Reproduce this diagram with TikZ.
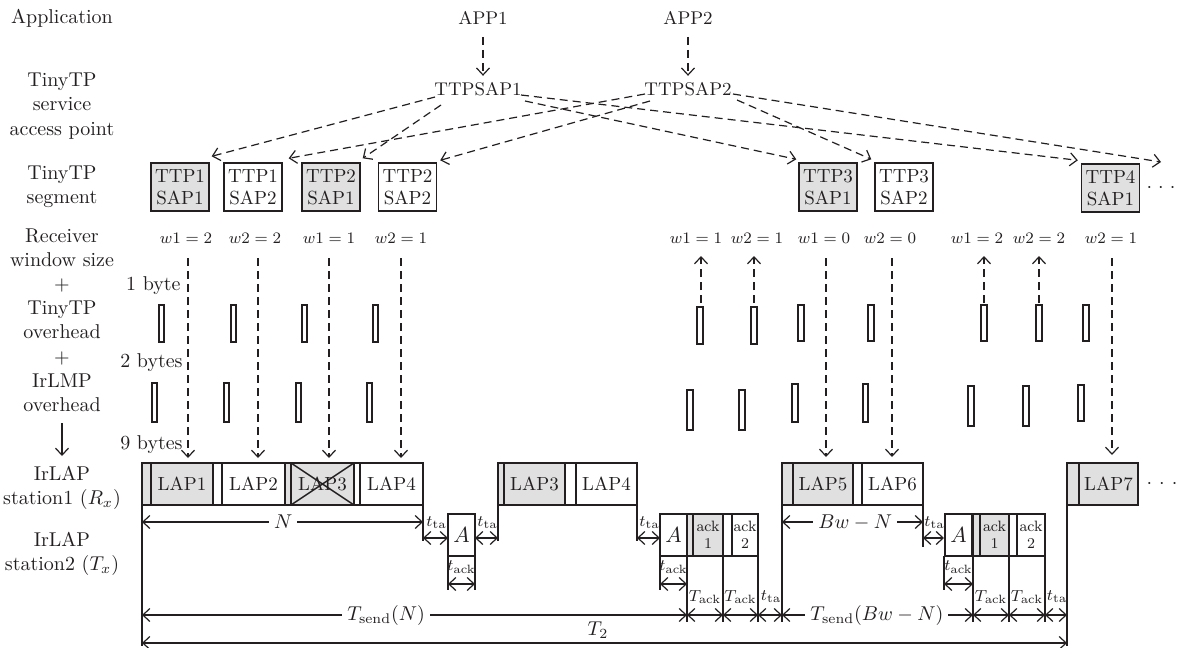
\documentclass[tikz,border=0pt]{standalone}
\usetikzlibrary{arrows.meta}
\definecolor{ink}{HTML}{231F20}
\definecolor{boxgray}{HTML}{E0E0E0}
\newcommand{\lapfr}[6]{%
  \fill[#4] (#1,463) rectangle (#3,505);
  \draw[boxline] (#1,463) rectangle (#3,505);
  \draw[boxline] (#2,463) -- (#2,505);
  \node[laptext] (#6) at ({(#2+#3)/2},484) {#5};
}
\newcommand{\ackfr}[6]{%
  \fill[#4] (#1,514) rectangle (#3,556);
  \draw[boxline] (#1,514) rectangle (#3,556);
  \draw[boxline] (#2,514) -- (#2,556);
  \node[acktext] (#6) at ({(#2+#3)/2},535) {#5};
}
\begin{document}
\begin{tikzpicture}[x=0.5pt,y=-0.5pt,
  >={Straight Barb[length=3.5pt,width=6.5pt]},
  every node/.style={text=ink, inner sep=0pt},
  lbl/.style={align=center, font=\fontsize{10}{12.1}\selectfont},
  toplbl/.style={font=\fontsize{9.2}{11}\selectfont},
  dasharrow/.style={draw=ink, line width=0.6pt, dash pattern=on 4pt off 2.5pt, ->},
  solidarrow/.style={draw=ink, line width=0.6pt, ->},
  dim/.style={draw=ink, line width=0.6pt, <->},
  guide/.style={draw=ink, line width=0.6pt},
  boxline/.style={draw=ink, line width=0.7pt},
  ttpbox/.style={draw=ink, line width=0.7pt, minimum width=29pt, minimum height=24pt, align=center, font=\fontsize{9.5}{11}\selectfont},
  abox/.style={draw=ink, line width=0.7pt, fill=white, minimum width=13.5pt, minimum height=21pt, font=\fontsize{11}{12}\selectfont},
  ohbox/.style={draw=ink, line width=0.6pt},
  wlbl/.style={font=\fontsize{8}{9}\selectfont},
  laptext/.style={font=\fontsize{9.5}{11}\selectfont},
  acktext/.style={align=center, font=\fontsize{7.5}{8.5}\selectfont},
  smalllbl/.style={font=\fontsize{8}{9}\selectfont},
  onlinelbl/.style={fill=white, inner xsep=2.5pt, inner ysep=1pt, font=\fontsize{10}{12}\selectfont},
]
\useasboundingbox (0,0) rectangle (1179,648);

% ---------- left column labels ----------
\node[lbl] (lApp) at (62,18) {Application};
\node[lbl] (lSap) at (62,106) {TinyTP\\service\\access point};
\node[lbl] (lSeg) at (62,187) {TinyTP\\segment};
\node[lbl] (lOvh) at (62,320) {Receiver\\window size\\+\\TinyTP\\overhead\\+\\IrLMP\\overhead};
\coordinate (lArrS) at (62,423);
\coordinate (lArrE) at (62,456);
\draw[solidarrow] (lArrS) -- (lArrE);
\node[lbl] (lSt1) at (62,488) {IrLAP\\station1 $(R_x)$};
\node[lbl] (lSt2) at (62,554) {IrLAP\\station2 $(T_x)$};

% ---------- applications and SAPs ----------
\node[toplbl] (app1) at (483,18) {APP1};
\node[toplbl] (app2) at (688,18) {APP2};
\node[toplbl] (sap1) at (478,89) {TTPSAP1};
\node[toplbl] (sap2) at (688,89) {TTPSAP2};
\draw[dasharrow, shorten <=6pt, shorten >=3pt] (app1.south) -- (app1.south |- sap1.north);
\draw[dasharrow, shorten <=6pt, shorten >=3pt] (app2.south) -- (app2.south |- sap2.north);

% ---------- TinyTP segments ----------
\node[ttpbox, fill=boxgray] (t11) at (180,187) {TTP1\\SAP1};
\node[ttpbox] (t12) at (253,187) {TTP1\\SAP2};
\node[ttpbox, fill=boxgray] (t21) at (331,187) {TTP2\\SAP1};
\node[ttpbox] (t22) at (407.5,187) {TTP2\\SAP2};
\node[ttpbox, fill=boxgray] (t31) at (828,187) {TTP3\\SAP1};
\node[ttpbox] (t32) at (904,187) {TTP3\\SAP2};
\node[ttpbox, fill=boxgray] (t41) at (1110.5,188) {TTP4\\SAP1};
\node[lbl] (dots1) at (1161,188) {$\cdot$\hspace{3pt}$\cdot$\hspace{3pt}$\cdot$};

\coordinate (s1l1) at (435,97);
\coordinate (s1l2) at (441,105);
\coordinate (s1r1) at (521,95);
\coordinate (s1r2) at (525,101);
\coordinate (s2l1) at (645,94);
\coordinate (s2l2) at (650,101);
\coordinate (s2r1) at (733,94);
\coordinate (s2r2) at (737,100);
\coordinate (t42tip) at (1161,162);

\draw[dasharrow] (s1l1) -- ([shift={(2,-6)}]t11.north east);
\draw[dasharrow] (s1l2) -- ([shift={(2,-4)}]t21.north east);
\draw[dasharrow] (s1r2) -- ([shift={(-2,-3)}]t31.north west);
\draw[dasharrow] (s1r1) -- ([shift={(-3,-3)}]t41.north west);
\draw[dasharrow] (s2l1) -- ([shift={(6,-4)}]t12.north east);
\draw[dasharrow] (s2l2) -- ([shift={(3,-2)}]t22.north east);
\draw[dasharrow] (s2r2) -- ([shift={(-3,-3)}]t32.north west);
\draw[dasharrow] (s2r1) -- (t42tip);

% ---------- receiver window labels ----------
\node[wlbl] (w1) at (186,238) {$w1 = 2$};
\node[wlbl] (w2) at (255,238) {$w2 = 2$};
\node[wlbl] (w3) at (329,238) {$w1 = 1$};
\node[wlbl] (w4) at (401,238) {$w2 = 1$};
\node[wlbl] (w5) at (696,238) {$w1 = 1$};
\node[wlbl] (w6) at (757,238) {$w2 = 1$};
\node[wlbl] (w7) at (824,238) {$w1 = 0$};
\node[wlbl] (w8) at (890,238) {$w2 = 0$};
\node[wlbl] (w9) at (977,238) {$w1 = 2$};
\node[wlbl] (w10) at (1039,238) {$w2 = 2$};
\node[wlbl] (w11) at (1111,238) {$w2 = 1$};

\foreach \i/\x/\e in {1/188/458,2/258/458,3/329/458,4/401/458,5/826/457,6/892/457,7/1112/455} {
  \coordinate (d\i s) at (\x,258);
  \coordinate (d\i e) at (\x,\e);
  \draw[dasharrow] (d\i s) -- (d\i e);
}
\foreach \i/\x in {1/701,2/754,3/984,4/1039} {
  \coordinate (u\i s) at (\x,303);
  \coordinate (u\i e) at (\x,256);
  \draw[dasharrow] (u\i s) -- (u\i e);
}

% ---------- byte labels ----------
\node[lbl, anchor=base east] (b1) at (181,290) {1 byte};
\node[lbl, anchor=base east] (b2) at (183,367) {2 bytes};
\node[lbl, anchor=base east] (b9) at (183,449) {9 bytes};

% ---------- overhead boxes ----------
\foreach \x/\y/\w/\h in {159/305/5/37, 231/305/5/37, 302/305/5/37, 373/305/5/37,
  697/307/6/37, 751/307/6/37, 798/305/6/36, 868/305/6/36, 981/305/6/36, 1036/305/6/36, 1083/305/6/36,
  152/383/5/39, 224/383/5/39, 296/383/5/39, 367/383/5/39,
  687/390/6/40, 739/390/6/40, 792/384/6/38, 863/384/5/38, 968/386/6/40, 1023/386/6/40, 1078/385/6/36}
  \draw[ohbox] (\x,\y) rectangle ++(\w,\h);

% ---------- IrLAP station 1 frames ----------
\lapfr{142}{151}{213}{boxgray}{LAP1}{lap1}
\lapfr{213}{222}{285}{white}{LAP2}{lap2}
\lapfr{285}{291}{354}{boxgray}{LAP3}{lap3}
\lapfr{354}{360}{423}{white}{LAP4}{lap4}
\draw[boxline] (291,463) -- (354,505) (291,505) -- (354,463);
\lapfr{498}{504}{565}{boxgray}{LAP3}{lap3b}
\lapfr{565}{576}{637}{white}{LAP4}{lap4b}
\lapfr{782}{793}{853}{boxgray}{LAP5}{lap5}
\lapfr{853}{862}{923}{white}{LAP6}{lap6}
\lapfr{1067}{1079}{1138}{boxgray}{LAP7}{lap7}
\node[lbl] (dots2) at (1162,484) {$\cdot$\hspace{3.5pt}$\cdot$\hspace{3.5pt}$\cdot$};

% ---------- IrLAP station 2 frames ----------
\node[abox] (A1) at (461.5,535) {$A$};
\node[abox] (A2) at (673.5,535) {$A$};
\node[abox] (A3) at (958.5,535) {$A$};
\ackfr{687}{693}{723}{boxgray}{ack\\1}{k11}
\ackfr{723}{732}{758}{white}{ack\\2}{k12}
\ackfr{973}{980}{1009}{boxgray}{ack\\1}{k21}
\ackfr{1009}{1017}{1045}{white}{ack\\2}{k22}

% ---------- guide lines ----------
\foreach \x/\a/\b in {142/505/646, 423/505/541, 448/556/590, 475/556/590, 498/505/541, 637/505/541,
  660/556/590, 687/556/622, 723/556/622, 758/556/622, 782/505/622, 923/505/547,
  944/556/590, 973/556/622, 1009/556/622, 1045/556/622, 1067/505/646}
  \draw[guide] (\x,\a) -- (\x,\b);

% ---------- dimensions ----------
\coordinate (nL) at (142,522);  \coordinate (nR) at (423,522);
\draw[dim] (nL) -- node[onlinelbl, pos=0.503] (lblN) {$N$} (nR);
\coordinate (bwL) at (782,522); \coordinate (bwR) at (923,522);
\draw[dim] (bwL) -- node[onlinelbl, pos=0.52] (lblBw) {$Bw - N$} (bwR);

\foreach \n/\a/\b/\y/\ly in {ta1/423/448/538/523, ta2/475/498/538/523, ta3/637/660/538/523, ta4/923/944/538/523,
  ta5/758/782/615/597, ta6/1045/1067/615/597} {
  \coordinate (\n L) at (\a,\y); \coordinate (\n R) at (\b,\y);
  \draw[dim] (\n L) -- (\n R);
  \node[smalllbl] (\n lbl) at ({(\a+\b)/2+1},\ly) {$t_{\mathrm{ta}}$};
}
\foreach \n/\a/\b in {ak1/448/475, ak2/660/687, ak3/944/973} {
  \coordinate (\n L) at (\a,584); \coordinate (\n R) at (\b,584);
  \draw[dim] (\n L) -- (\n R);
  \node[smalllbl] (\n lbl) at ({(\a+\b)/2},567) {$t_{\mathrm{ack}}$};
}
\foreach \n/\a/\b in {Ak1/687/723, Ak2/723/758, Ak3/973/1009, Ak4/1009/1045} {
  \coordinate (\n L) at (\a,615); \coordinate (\n R) at (\b,615);
  \draw[dim] (\n L) -- (\n R);
  \node[smalllbl, font=\fontsize{8.5}{9}\selectfont] (\n lbl) at ({(\a+\b)/2},597) {$T_{\mathrm{ack}}$};
}
\coordinate (tsL) at (142,615); \coordinate (tsR) at (687,615);
\draw[dim] (tsL) -- node[onlinelbl, pos=0.448] (lblTs) {$T_{\mathrm{send}}(N)$} (tsR);
\coordinate (tbL) at (782,615); \coordinate (tbR) at (973,615);
\draw[dim] (tbL) -- node[onlinelbl, pos=0.497] (lblTb) {$T_{\mathrm{send}}(Bw - N)$} (tbR);
\coordinate (t2L) at (142,643); \coordinate (t2R) at (1067,643);
\draw[dim] (t2L) -- (t2R);
\node[lbl] (lblT2) at (598,630) {$T_2$};
\end{tikzpicture}
\end{document}
